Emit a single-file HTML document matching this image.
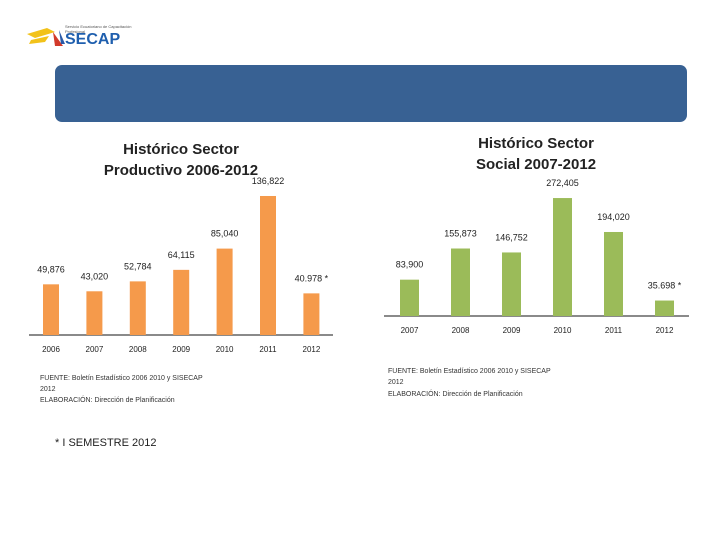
<!DOCTYPE html>
<html><head><meta charset="utf-8"><style>
body{margin:0;width:720px;height:540px;background:#fff;position:relative;overflow:hidden;font-family:"Liberation Sans",sans-serif}
.t{position:absolute;font-family:"Liberation Sans",sans-serif}
</style></head><body>
<div class="t" style="left:25px;top:24px;width:115px;height:26px">
<svg width="115" height="26"><polygon points="2,10 22,4 30,8 10,14" fill="#f2c21a"/><polygon points="6,16 24,12 20,18 4,20" fill="#f2c21a"/><polygon points="28,8 38,22 30,22" fill="#d23a2a"/><polygon points="34,6 40,20 36,20" fill="#2a5aa8"/></svg>
<div class="t" style="left:40px;top:7px;font-size:16px;font-weight:bold;color:#1f5fae">SECAP</div>
<div class="t" style="left:40px;top:0px;font-size:4px;color:#555">Servicio Ecuatoriano de Capacitación Profesional</div>
</div>
<div style="position:absolute;left:55px;top:65px;width:632px;height:57px;background:#386193;border-radius:7px"></div>
<div class="t" style="left:81px;top:139px;width:200px;text-align:center;font-size:15px;font-weight:bold;line-height:21px;color:#222">Histórico Sector<br>Productivo 2006-2012</div>
<div class="t" style="left:436px;top:133px;width:200px;text-align:center;font-size:15px;font-weight:bold;line-height:21px;color:#222">Histórico Sector<br>Social 2007-2012</div>
<svg id="c" width="720" height="540" style="position:absolute;left:0;top:0"></svg>
<div class="t" style="left:40px;top:373px;font-size:7px;line-height:11px;color:#333">FUENTE: Boletín Estadístico 2006 2010 y SISECAP<br>2012</div>
<div class="t" style="left:40px;top:397px;font-size:7px;color:#333">ELABORACIÓN: Dirección de Planificación</div>
<div class="t" style="left:55px;top:437px;font-size:11px;color:#222">* I SEMESTRE 2012</div>
<div class="t" style="left:388px;top:366px;font-size:7px;line-height:11px;color:#333">FUENTE: Boletín Estadístico 2006 2010 y SISECAP<br>2012</div>
<div class="t" style="left:388px;top:391px;font-size:7px;color:#333">ELABORACIÓN: Dirección de Planificación</div>
<script>
const leftYears=["2006","2007","2008","2009","2010","2011","2012"];
const leftValues=[49876,43020,52784,64115,85040,136822,40978];
const leftLabels=["49,876","43,020","52,784","64,115","85,040","136,822","40.978 *"];
const rightYears=["2007","2008","2009","2010","2011","2012"];
const rightValues=[83900,155873,146752,272405,194020,35698];
const rightLabels=["83,900","155,873","146,752","272,405","194,020","35.698 *"];
const svg=document.getElementById('c');
const NS='http://www.w3.org/2000/svg';
function mk(tag,attrs){const e=document.createElementNS(NS,tag);for(const k in attrs)e.setAttribute(k,attrs[k]);svg.appendChild(e);return e;}
function chart(prefix,years,vals,labels,x0,step,bw,base,scale,color,axL,axR,yearY){
  const ax=mk('line',{x1:axL,x2:axR,y1:base,y2:base,stroke:'#8a8a8a','stroke-width':2});
  
  
  vals.forEach((v,i)=>{
    const cx=x0+i*step,h=v*scale;
    const r=mk('rect',{x:cx-bw/2,y:base-h,width:bw,height:h,fill:color});
    
    
    const t=mk('text',{x:cx,y:base-h-12,'text-anchor':'middle','font-size':9,fill:'#222','font-family':'Liberation Sans, sans-serif'});
    t.textContent=labels[i];
    
    
    const y=mk('text',{x:cx,y:yearY,'text-anchor':'middle','font-size':8,fill:'#222','font-family':'Liberation Sans, sans-serif'});
    y.textContent=years[i];
    
    
  });
}
chart('left',leftYears,leftValues,leftLabels,51,43.4,16,335,0.001016,'#f59a4b',29,333,352);
chart('right',rightYears,rightValues,rightLabels,409.5,51,19,316,0.000433,'#9bbb59',384,689,333);
</script>
</body></html>
